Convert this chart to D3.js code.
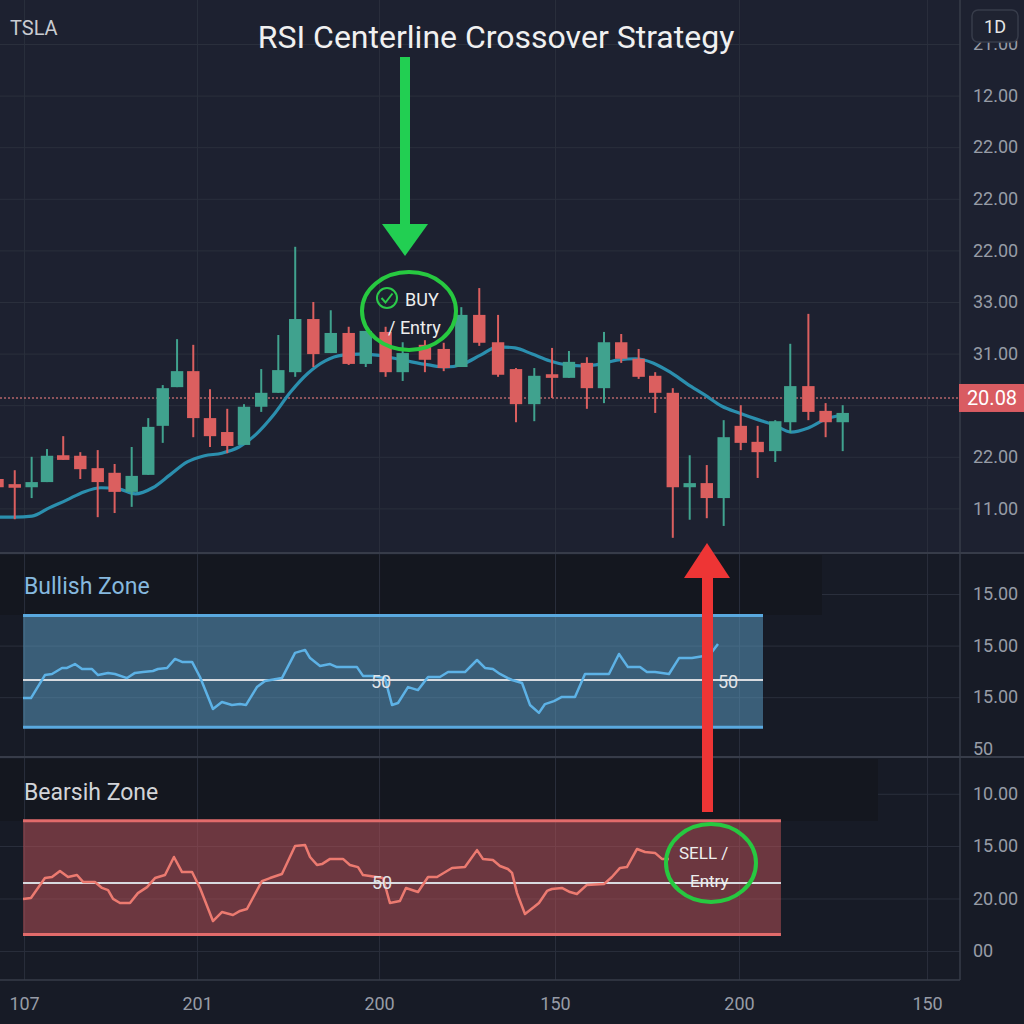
<!DOCTYPE html>
<html>
<head>
<meta charset="utf-8">
<script src="https://cdn.jsdelivr.net/npm/d3@7"></script>
<style>
  body { margin: 0; background: #1d2130; }
  svg { display: block; font-family: Roboto, "Noto Sans", sans-serif; }
</style>
</head>
<body>
<svg id="chart" width="1024" height="1024"></svg>
<script>
// ---- price candles (arbitrary price units); bar times are uneven in the source ----
const candleT = [0,1.00,1.98,2.87,3.81,4.80,5.81,6.79,7.78,8.74,9.58,10.41,11.35,12.32,13.32,14.29,15.29,16.28,17.26,18.31,19.32,20.36,21.35,22.50,23.49,24.78,25.87,26.89,27.93,29.02,30.06,31.12,32.15,33.13,34.17,35.16,36.16,37.17,38.13,39.15,40.13,41.12,42.10,43.09,44.07,45.09,45.96,47.01,48.01,49.00];
const open  = [15.7,14.7,14.1,15.1,20.3,20.2,17.8,16.9,13.2,16.5,26.0,33.5,36.6,27.5,24.8,22.3,29.7,32.4,36.4,46.7,40.1,44.0,38.0,44.2,36.4,41.7,40.9,37.4,47.5,42.2,37.0,30.2,36.0,35.3,38.2,33.3,42.2,39.0,35.7,32.4,14.1,14.9,12.0,26.0,22.9,21.1,26.7,33.7,28.9,26.7];
const close = [14.1,14.0,15.1,20.2,19.4,17.6,15.1,13.2,16.3,25.8,33.3,36.6,27.5,24.0,22.1,29.7,32.4,36.8,46.7,39.9,44.0,38.0,44.4,36.4,40.1,38.8,37.2,47.5,42.1,35.9,30.2,35.7,35.3,38.4,33.3,42.2,39.0,35.5,32.4,14.1,14.9,12.0,23.8,22.7,20.9,26.9,33.7,28.7,26.7,28.5];
const high  = [16.5,17.4,20.0,21.5,24.0,20.9,21.3,18.6,21.9,27.5,33.9,42.8,41.7,33.1,29.3,30.2,37.0,43.6,60.7,50.0,48.4,45.2,44.4,45.2,42.2,42.6,42.1,49.0,52.7,47.5,37.2,37.2,41.1,40.5,39.3,44.2,43.8,40.9,36.4,33.3,20.3,18.4,27.1,30.0,26.0,27.1,41.9,47.7,30.4,30.0];
const low   = [13.6,7.9,12.0,15.1,19.4,15.7,8.3,9.1,10.3,16.5,22.7,33.5,23.8,21.9,20.7,22.3,28.7,32.4,35.5,37.4,40.1,37.8,37.4,35.5,34.7,36.4,36.6,37.4,41.5,35.5,26.7,26.9,31.4,35.3,29.3,30.4,38.2,35.1,28.5,4.3,7.8,8.1,6.6,21.3,15.9,19.0,24.6,27.1,23.8,21.1];
// moving average, read at even steps of one bar
const maLine = [8.3,8.3,8.5,10.1,11.6,13.2,14.0,13.8,12.8,14.0,16.5,19.0,20.2,20.7,21.9,24.4,28.1,32.6,36.2,38.6,39.7,39.9,39.7,39.1,38.4,37.8,37.4,38.0,39.7,41.3,41.1,39.9,38.6,37.8,37.6,38.0,38.8,39.0,38.2,36.4,34.1,32.0,29.8,28.5,27.3,26.2,24.8,25.6,27.3,28.1];
const lastPrice = 31.4;
const lastPriceLabel = "20.08";

// ---- RSI panels (time in bar units, value 0-100) ----
const bullT = [1.48,1.94,2.75,3.16,3.74,4.03,4.49,4.90,5.48,5.83,6.41,6.81,7.51,7.97,8.43,9.01,9.30,9.83,10.29,10.70,11.28,11.74,12.49,13.01,13.59,14.06,14.41,15.04,15.51,16.49,17.25,17.83,18.12,18.70,19.28,19.68,20.26,20.84,21.19,21.77,22.46,22.87,23.22,23.80,24.38,24.96,25.65,26.12,27.10,27.80,28.26,28.72,29.13,29.59,29.83,30.41,30.87,31.39,31.74,32.26,32.72,33.48,34.06,35.45,36.03,36.55,37.25,37.65,38.12,38.93,39.51,40.26,40.96,41.42,41.77];
const bullRsi = [41.6,41.6,52.3,52.8,55.6,55.6,57.4,55.1,55.1,52.3,53.3,52.8,50.9,53.3,53.7,54.2,55.1,55.6,59.8,58.4,58.4,51.4,36.5,39.8,38.4,38.8,38.4,46.7,49.5,50.9,62.6,64.0,60.2,56.5,57.4,56.0,56.0,56.0,51.9,51.9,50.9,38.4,39.3,46.7,45.3,51.4,51.4,53.7,53.7,59.3,55.6,55.1,52.8,50.9,50.0,48.6,38.4,34.7,38.8,40.2,42.1,42.1,52.8,52.8,62.1,56.0,56.0,53.7,53.7,52.8,60.2,60.2,61.2,63.0,66.7];
const bearT = [1.48,1.94,2.75,3.16,3.62,4.09,4.61,4.96,5.65,6.06,6.41,6.70,7.10,7.68,8.14,8.67,9.13,9.71,10.23,10.70,11.28,11.74,12.49,13.01,13.65,14.06,14.46,15.33,15.80,16.49,17.25,17.83,18.12,18.52,18.81,19.28,20.03,20.43,20.90,21.19,21.59,22.35,22.75,23.33,23.68,24.38,24.96,25.48,26.35,27.10,27.80,28.14,28.72,29.13,29.59,29.83,30.12,30.58,31.10,31.39,31.86,32.14,32.72,33.19,33.59,34.17,35.16,35.62,36.09,36.49,37.07,37.54,38.12,38.52,38.93];
const bearRsi = [42.6,43.0,52.3,52.8,55.6,52.8,53.7,50.5,50.5,47.7,46.7,42.6,40.7,40.7,45.3,48.1,52.3,53.7,62.1,55.1,55.1,47.7,32.3,36.5,35.1,37.0,37.9,50.9,52.3,54.2,67.2,67.7,62.1,58.4,58.8,61.2,61.2,58.4,57.4,53.7,53.3,52.3,40.7,41.6,47.7,45.8,52.8,52.8,57.0,57.4,65.3,61.2,60.7,57.9,56.5,54.7,45.3,35.6,38.8,40.7,46.3,47.2,47.7,45.8,44.9,49.1,49.5,52.8,57.0,57.4,65.8,64.4,64.0,61.2,61.2];
const bullZone = [28, 80], bullZoneT = [1.48, 44.38];
const bearZone = [26, 79], bearZoneT = [1.48, 45.42];

// ---- axis ticks and their (odd) labels ----
const priceTicks = [100, 90, 80, 70, 60, 50, 40, 20, 10];
const priceTickLabels = ["21.00","12.00","22.00","22.00","22.00","33.00","31.00","22.00","11.00"];
const priceGrid = [100, 90, 80, 70, 60, 50, 40, 30, 20, 10];
const bullTicks = [90, 66, 42, 18];
const bullTickLabels = ["15.00","15.00","15.00","50"];
const bearTicks = [91.5, 67.2, 42.8, 18.4];
const bearTickLabels = ["10.00","15.00","20.00","00"];
const timeTicks = [1.54, 11.57, 22.12, 32.32, 42.99, 53.89];
const timeTickLabels = ["107","201","200","150","200","150"];

const svg = d3.select("#chart");
const x = d3.scaleLinear().domain([0, 49]).range([-2.5, 842.7]);
const y = d3.scaleLinear().domain([0, 100]).range([560, 44]);
const yBull = d3.scaleLinear().domain([0, 100]).range([787.5, 572.5]);
const yBear = d3.scaleLinear().domain([0, 100]).range([990.5, 775.5]);

const gridCol = "#2a2f3c", axisTxt = "#979ca6";

// backgrounds
svg.append("rect").attr("width", 1024).attr("height", 1024).attr("fill", "#1d2130");
svg.append("rect").attr("y", 553).attr("width", 1024).attr("height", 471).attr("fill", "#171b26");
svg.append("rect").attr("y", 555).attr("width", 822).attr("height", 60).attr("fill", "#14171f");
svg.append("rect").attr("y", 759).attr("width", 878).attr("height", 62).attr("fill", "#14171f");

function cleanGrid(g) {
  g.select(".domain").remove();
  g.selectAll(".tick line").attr("stroke", gridCol).attr("stroke-width", 1);
  g.selectAll(".tick text").remove();
}

// vertical grid
svg.append("g").attr("transform", "translate(0,980)")
  .call(d3.axisBottom(x).tickValues(timeTicks).tickSize(-980)).call(cleanGrid);
// horizontal grid, price pane
svg.append("g").call(d3.axisRight(y).tickValues(priceGrid).tickSize(960)).call(cleanGrid);
// horizontal grid, rsi panes
svg.append("g").call(d3.axisRight(yBull).tickValues(bullTicks.slice(1, 3)).tickSize(960)).call(cleanGrid);
svg.append("g").attr("transform", "translate(822,0)")
  .call(d3.axisRight(yBull).tickValues([bullTicks[0]]).tickSize(138)).call(cleanGrid);
svg.append("g").call(d3.axisRight(yBear).tickValues(bearTicks.slice(1)).tickSize(960)).call(cleanGrid);
svg.append("g").attr("transform", "translate(878,0)")
  .call(d3.axisRight(yBear).tickValues([bearTicks[0]]).tickSize(82)).call(cleanGrid);

// separators and axis frame
svg.append("line").attr("x1", 0).attr("x2", 1024).attr("y1", 553).attr("y2", 553).attr("stroke", "#373c49").attr("stroke-width", 2);
svg.append("line").attr("x1", 0).attr("x2", 1024).attr("y1", 757).attr("y2", 757).attr("stroke", "#373c49").attr("stroke-width", 2);
svg.append("line").attr("x1", 960).attr("x2", 960).attr("y1", 0).attr("y2", 980).attr("stroke", "#373c49").attr("stroke-width", 1.5);
svg.append("line").attr("x1", 0).attr("x2", 960).attr("y1", 980).attr("y2", 980).attr("stroke", "#373c49").attr("stroke-width", 1.5);

// last price dotted line
svg.append("line").attr("x1", 0).attr("x2", 958).attr("y1", y(lastPrice)).attr("y2", y(lastPrice))
  .attr("stroke", "#b4646a").attr("stroke-width", 1.5).attr("stroke-dasharray", "2,2");

// moving average
svg.append("path").datum(maLine)
  .attr("d", d3.line().x((d, i) => x(i)).y(d => y(d)).curve(d3.curveMonotoneX))
  .attr("fill", "none").attr("stroke", "#2b8fae").attr("stroke-width", 3.2);

// candles
const bw = (x(1) - x(0)) * 0.72;
const candles = candleT.map((t, i) => ({ t, o: open[i], c: close[i], h: high[i], l: low[i] }));
const cg = svg.append("g").selectAll("g").data(candles).join("g");
const col = d => d.c >= d.o ? "#40a28e" : "#db5f5f";
cg.append("line").attr("x1", d => x(d.t)).attr("x2", d => x(d.t))
  .attr("y1", d => y(d.h)).attr("y2", d => y(d.l)).attr("stroke", col).attr("stroke-width", 2);
cg.append("rect").attr("x", d => x(d.t) - bw / 2).attr("width", bw)
  .attr("y", d => y(Math.max(d.o, d.c)))
  .attr("height", d => Math.max(3, Math.abs(y(d.o) - y(d.c))))
  .attr("fill", col);

// RSI panes
function rsiPane(scale, ts, vals, zone, zoneT, fill, edge, lineCol) {
  const g = svg.append("g");
  g.append("rect").attr("x", x(zoneT[0])).attr("width", x(zoneT[1]) - x(zoneT[0]))
    .attr("y", scale(zone[1])).attr("height", scale(zone[0]) - scale(zone[1]))
    .attr("fill", fill);
  [zone[0], zone[1]].forEach(v => g.append("line")
    .attr("x1", x(zoneT[0])).attr("x2", x(zoneT[1])).attr("y1", scale(v)).attr("y2", scale(v))
    .attr("stroke", edge).attr("stroke-width", 3));
  g.append("line").attr("x1", x(zoneT[0])).attr("x2", x(zoneT[1]))
    .attr("y1", scale(50)).attr("y2", scale(50)).attr("stroke", "#d8dbe0").attr("stroke-width", 2);
  g.append("path").datum(d3.zip(ts, vals))
    .attr("d", d3.line().x(d => x(d[0])).y(d => scale(d[1])))
    .attr("fill", "none").attr("stroke", lineCol).attr("stroke-width", 2.5).attr("stroke-linejoin", "round");
  return g;
}
const bull = rsiPane(yBull, bullT, bullRsi, bullZone, bullZoneT, "rgba(93,161,202,0.5)", "#5aa9df", "#5db2e6");
const bear = rsiPane(yBear, bearT, bearRsi, bearZone, bearZoneT, "rgba(193,83,90,0.5)", "#e26b6b", "#ec7a70");

const midStyle = s => s.attr("font-size", 18).attr("fill", "#e2e4e8").attr("text-anchor", "middle").attr("dy", "0.35em");
bull.append("text").attr("x", 381).attr("y", yBull(50) + 2).text("50").call(midStyle);
bull.append("text").attr("x", 728).attr("y", yBull(50) + 2).text("50").call(midStyle);
bear.append("text").attr("x", 382).attr("y", yBear(50)).text("50").call(midStyle);

svg.append("text").attr("x", 24).attr("y", 594).attr("font-size", 23).attr("fill", "#86b9df").text("Bullish Zone");
svg.append("text").attr("x", 24).attr("y", 800).attr("font-size", 23).attr("fill", "#d2d4d8").text("Bearsih Zone");

// axes labels
function labelAxis(g) {
  g.select(".domain").remove();
  g.selectAll(".tick line").remove();
  g.selectAll(".tick text").attr("fill", axisTxt).attr("font-size", 18).attr("font-family", "Roboto, sans-serif");
}
svg.append("g").attr("transform", "translate(960,0)")
  .call(d3.axisRight(y).tickValues(priceTicks).tickSize(0).tickPadding(13).tickFormat((d, i) => priceTickLabels[i]))
  .call(labelAxis);
svg.append("g").attr("transform", "translate(960,0)")
  .call(d3.axisRight(yBull).tickValues(bullTicks).tickSize(0).tickPadding(13).tickFormat((d, i) => bullTickLabels[i]))
  .call(labelAxis);
svg.append("g").attr("transform", "translate(960,0)")
  .call(d3.axisRight(yBear).tickValues(bearTicks).tickSize(0).tickPadding(13).tickFormat((d, i) => bearTickLabels[i]))
  .call(labelAxis);
svg.append("g").attr("transform", "translate(0,980)")
  .call(d3.axisBottom(x).tickValues(timeTicks).tickSize(0).tickPadding(17).tickFormat((d, i) => timeTickLabels[i]))
  .call(labelAxis);

// last price tag
svg.append("rect").attr("x", 959).attr("y", y(lastPrice) - 14).attr("width", 65).attr("height", 28).attr("fill", "#d95c62");
svg.append("text").attr("x", 992).attr("y", y(lastPrice)).attr("dy", "0.36em").attr("text-anchor", "middle")
  .attr("font-size", 20).attr("fill", "#ffffff").text(lastPriceLabel);

// BUY arrow and marker
const green = "#22cf52";
svg.append("rect").attr("x", 400).attr("y", 57).attr("width", 10).attr("height", 170).attr("fill", green);
svg.append("path").attr("d", "M382,224 L428,224 L405,256 Z").attr("fill", green);
svg.append("ellipse").attr("cx", 409).attr("cy", 311).attr("rx", 47).attr("ry", 39)
  .attr("fill", "none").attr("stroke", "#27c940").attr("stroke-width", 4);
svg.append("circle").attr("cx", 387).attr("cy", 298).attr("r", 10).attr("fill", "none").attr("stroke", "#2bc94a").attr("stroke-width", 2);
svg.append("path").attr("d", "M381.5,298 L385.5,302.5 L392.5,293.5").attr("fill", "none").attr("stroke", "#2bc94a").attr("stroke-width", 2);
svg.append("text").attr("x", 405).attr("y", 306).attr("font-size", 18).attr("fill", "#eeeeee").text("BUY");
svg.append("text").attr("x", 388).attr("y", 334).attr("font-size", 18).attr("fill", "#eeeeee").text("/ Entry");

// SELL arrow and marker
const red = "#ee3535";
svg.append("rect").attr("x", 702).attr("y", 575).attr("width", 11).attr("height", 237).attr("fill", red);
svg.append("path").attr("d", "M684,578 L730,578 L707,543 Z").attr("fill", red);
svg.append("ellipse").attr("cx", 711).attr("cy", 863).attr("rx", 45).attr("ry", 39)
  .attr("fill", "none").attr("stroke", "#27c940").attr("stroke-width", 4);
svg.append("text").attr("x", 679).attr("y", 859).attr("font-size", 17).attr("fill", "#eeeeee").text("SELL /");
svg.append("text").attr("x", 690).attr("y", 887).attr("font-size", 17).attr("fill", "#eeeeee").text("Entry");

// header
svg.append("text").attr("x", 10).attr("y", 35).attr("font-size", 20).attr("fill", "#c9ccd2").text("TSLA");
svg.append("text").attr("x", 496).attr("y", 48).attr("text-anchor", "middle").attr("font-size", 32)
  .attr("fill", "#f0f0f0").text("RSI Centerline Crossover Strategy");
svg.append("rect").attr("x", 972).attr("y", 10).attr("width", 46).attr("height", 32).attr("rx", 6)
  .attr("fill", "#1f2331").attr("stroke", "#373c4a").attr("stroke-width", 1.5);
svg.append("text").attr("x", 995).attr("y", 33).attr("text-anchor", "middle").attr("font-size", 18)
  .attr("fill", "#e6e6e6").text("1D");
</script>
</body>
</html>
